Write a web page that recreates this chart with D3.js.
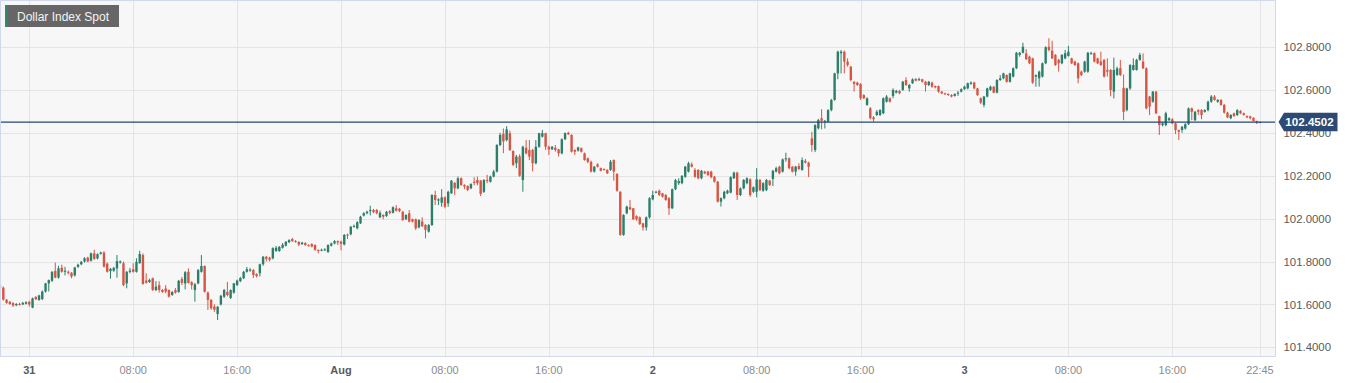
<!DOCTYPE html>
<html><head><meta charset="utf-8">
<script src="https://cdn.jsdelivr.net/npm/d3@7"></script>
<style>
html,body{margin:0;padding:0;background:#fff;}
svg{display:block;font-family:"Liberation Sans",Arial,Helvetica,sans-serif;}
</style></head><body>
<svg id="chart" width="1352" height="383"></svg>
<script>
// ---------- data ----------
const title = "Dollar Index Spot";
const startTime = "2023-07-30T21:45:00Z";   // first 15-minute candle
const intervalMinutes = 15;
const lastPrice = 102.4502;
const yTicks = [101.4, 101.6, 101.8, 102.0, 102.2, 102.4, 102.6, 102.8];
const xTickTimes = ["2023-07-31T00:00Z","2023-07-31T08:00Z","2023-07-31T16:00Z","2023-08-01T00:00Z","2023-08-01T08:00Z","2023-08-01T16:00Z","2023-08-02T00:00Z","2023-08-02T08:00Z","2023-08-02T16:00Z","2023-08-03T00:00Z","2023-08-03T08:00Z","2023-08-03T16:00Z","2023-08-03T22:45Z"];
const xTickLabels = ["31","08:00","16:00","Aug","08:00","16:00","2","08:00","16:00","3","08:00","16:00","22:45"];
const xTickMajor = [true,false,false,true,false,false,true,false,false,true,false,false,false];

// OHLC rows [open, high, low, close], consecutive 15-minute candles
const barsJul30to31a = [
[101.688,101.695,101.672,101.678],[101.678,101.683,101.618,101.622],[101.622,101.625,101.603,101.607],[101.612,101.616,101.598,101.602],
[101.606,101.610,101.588,101.595],[101.596,101.606,101.592,101.602],[101.602,101.608,101.595,101.600],[101.600,101.612,101.597,101.607],
[101.603,101.615,101.600,101.610],[101.612,101.617,101.590,101.600],[101.585,101.632,101.582,101.628],[101.635,101.638,101.620,101.624],
[101.620,101.645,101.618,101.642],[101.625,101.665,101.620,101.660],[101.660,101.700,101.655,101.698],[101.698,101.716,101.660,101.713],
[101.710,101.755,101.705,101.752],[101.756,101.795,101.722,101.725],[101.725,101.780,101.720,101.768],[101.771,101.785,101.748,101.752],
[101.752,101.775,101.735,101.757],[101.752,101.758,101.740,101.748],[101.748,101.750,101.722,101.730],[101.735,101.775,101.730,101.772],
[101.775,101.790,101.770,101.785],[101.787,101.803,101.783,101.798],[101.800,101.820,101.795,101.815],[101.818,101.822,101.797,101.800],
[101.803,101.842,101.800,101.838],[101.838,101.855,101.808,101.812],[101.814,101.838,101.810,101.834],[101.836,101.846,101.832,101.842],
[101.842,101.848,101.772,101.776],[101.790,101.795,101.748,101.752],[101.755,101.770,101.720,101.766],[101.757,101.775,101.752,101.770],
[101.768,101.830,101.725,101.802],[101.795,101.805,101.790,101.800],[101.792,101.800,101.685,101.690]
];
const barsJul31b = [
[101.698,101.755,101.675,101.752],[101.752,101.770,101.745,101.758],[101.764,101.792,101.748,101.752],[101.752,101.815,101.748,101.798],
[101.792,101.850,101.790,101.835],[101.830,101.838,101.692,101.695],[101.711,101.745,101.697,101.701],[101.704,101.720,101.700,101.714],
[101.722,101.725,101.663,101.667],[101.667,101.708,101.662,101.683],[101.690,101.708,101.655,101.667],[101.667,101.672,101.654,101.658],
[101.674,101.690,101.652,101.660],[101.667,101.670,101.632,101.636],[101.644,101.662,101.640,101.658],[101.667,101.676,101.650,101.655],
[101.658,101.714,101.654,101.710],[101.718,101.728,101.690,101.700],[101.698,101.755,101.670,101.750],[101.752,101.768,101.697,101.700],
[101.704,101.708,101.670,101.690],[101.667,101.700,101.613,101.694],[101.698,101.765,101.694,101.760],[101.752,101.830,101.748,101.779],
[101.779,101.782,101.655,101.659],[101.655,101.660,101.574,101.621],[101.621,101.625,101.575,101.582],[101.590,101.600,101.565,101.575],
[101.555,101.592,101.527,101.589],[101.600,101.645,101.595,101.640],[101.636,101.672,101.630,101.667],[101.658,101.705,101.638,101.644],
[101.630,101.670,101.625,101.667],[101.655,101.700,101.650,101.698],[101.690,101.716,101.686,101.711],[101.708,101.728,101.704,101.723],
[101.722,101.756,101.718,101.752],[101.752,101.775,101.748,101.764],[101.758,101.770,101.752,101.762]
];
const barsJul31cAug1a = [
[101.760,101.765,101.723,101.737],[101.742,101.745,101.725,101.732],[101.745,101.790,101.730,101.787],[101.787,101.826,101.780,101.822],
[101.822,101.826,101.800,101.812],[101.818,101.822,101.800,101.808],[101.815,101.866,101.810,101.862],[101.849,101.872,101.845,101.864],
[101.849,101.872,101.845,101.868],[101.864,101.886,101.860,101.878],[101.874,101.895,101.870,101.892],[101.890,101.904,101.886,101.900],
[101.905,101.910,101.892,101.895],[101.895,101.900,101.888,101.893],[101.891,101.895,101.872,101.879],[101.881,101.892,101.878,101.888],
[101.886,101.890,101.873,101.877],[101.876,101.880,101.870,101.874],[101.881,101.885,101.866,101.870],[101.877,101.880,101.850,101.854],
[101.854,101.856,101.838,101.849],[101.852,101.860,101.848,101.855],[101.854,101.862,101.850,101.856],[101.844,101.880,101.840,101.877],
[101.874,101.888,101.870,101.884],[101.884,101.900,101.880,101.895],[101.895,101.898,101.877,101.889],[101.893,101.897,101.852,101.882],
[101.879,101.928,101.875,101.924],[101.926,101.930,101.905,101.921],[101.927,101.966,101.922,101.962],[101.962,101.972,101.958,101.966],
[101.955,101.988,101.950,101.983],[101.978,102.013,101.975,102.009],[102.014,102.030,102.010,102.025],[102.025,102.037,102.020,102.032],
[102.035,102.060,102.015,102.040],[102.040,102.045,102.025,102.030],[102.040,102.045,102.020,102.025]
];
const barsAug1b = [
[102.006,102.037,102.002,102.027],[102.017,102.020,101.997,102.009],[102.012,102.036,102.008,102.032],[102.034,102.040,102.020,102.026],
[102.027,102.057,102.024,102.053],[102.048,102.063,102.033,102.037],[102.046,102.050,102.030,102.035],[102.032,102.036,101.990,101.993],
[101.997,102.020,101.993,102.017],[102.025,102.040,101.982,101.986],[101.997,102.000,101.982,101.986],[101.997,102.000,101.947,101.955],
[101.959,101.997,101.955,101.993],[101.986,102.006,101.960,101.965],[101.970,101.975,101.908,101.947],[101.939,101.975,101.935,101.970],
[101.970,102.114,101.966,102.110],[102.110,102.130,102.063,102.087],[102.084,102.095,102.063,102.090],[102.074,102.137,102.055,102.099],
[102.099,102.104,102.048,102.055],[102.071,102.130,102.055,102.125],[102.118,102.180,102.115,102.177],[102.167,102.170,102.110,102.141],
[102.141,102.196,102.137,102.188],[102.188,102.192,102.152,102.157],[102.157,102.160,102.137,102.150],[102.152,102.155,102.128,102.133],
[102.141,102.165,102.137,102.161],[102.171,102.193,102.155,102.166],[102.180,102.196,102.155,102.165],[102.177,102.180,102.105,102.115],
[102.125,102.184,102.120,102.180],[102.180,102.204,102.165,102.177],[102.172,102.200,102.168,102.196],[102.196,102.227,102.192,102.219],
[102.219,102.347,102.215,102.343],[102.343,102.400,102.338,102.390],[102.395,102.420,102.305,102.360]
];
const barsAug1cAug2 = [
[102.366,102.431,102.360,102.416],[102.398,102.410,102.315,102.320],[102.315,102.318,102.245,102.250],[102.258,102.297,102.235,102.289],
[102.290,102.300,102.195,102.200],[102.180,102.340,102.125,102.335],[102.330,102.366,102.300,102.304],[102.320,102.366,102.273,102.289],
[102.320,102.325,102.220,102.258],[102.258,102.366,102.253,102.335],[102.335,102.400,102.330,102.398],[102.382,102.413,102.378,102.398],
[102.398,102.400,102.320,102.335],[102.335,102.340,102.297,102.323],[102.323,102.338,102.320,102.335],[102.330,102.343,102.312,102.320],
[102.323,102.325,102.289,102.304],[102.304,102.374,102.300,102.370],[102.370,102.402,102.366,102.398],[102.400,102.405,102.390,102.393],
[102.390,102.393,102.308,102.312],[102.320,102.323,102.297,102.312],[102.317,102.335,102.312,102.332],[102.328,102.332,102.308,102.312],
[102.304,102.308,102.270,102.273],[102.281,102.285,102.258,102.265],[102.265,102.270,102.215,102.219],[102.219,102.245,102.215,102.242],
[102.253,102.258,102.238,102.242],[102.235,102.238,102.220,102.223],[102.231,102.234,102.224,102.227],[102.227,102.230,102.208,102.211],
[102.227,102.273,102.223,102.265],[102.273,102.276,102.177,102.219],[102.208,102.212,102.125,102.130],[102.125,102.128,101.920,101.924],
[101.924,102.020,101.920,102.017],[102.025,102.060,102.020,102.056],[102.053,102.087,102.040,102.043],[102.048,102.050,101.993,101.997],
[102.012,102.015,101.990,101.997],[102.006,102.010,101.970,101.975],[101.978,101.980,101.944,101.959],[101.959,102.010,101.944,102.006],
[102.006,102.100,102.000,102.095],[102.090,102.130,102.085,102.110],[102.122,102.130,102.118,102.125],[102.130,102.135,102.105,102.110],
[102.118,102.120,102.098,102.102],[102.110,102.115,102.083,102.087],[102.095,102.100,102.017,102.048],[102.048,102.140,102.045,102.137],
[102.137,102.185,102.133,102.180],[102.165,102.188,102.157,102.175],[102.165,102.203,102.160,102.199],[102.195,102.246,102.190,102.242],
[102.219,102.265,102.215,102.258],[102.253,102.262,102.238,102.242],[102.227,102.235,102.190,102.195],[102.227,102.230,102.183,102.188],
[102.188,102.227,102.183,102.223],[102.219,102.223,102.207,102.211],[102.219,102.223,102.199,102.203],[102.219,102.223,102.188,102.193],
[102.195,102.199,102.168,102.172],[102.172,102.175,102.075,102.079],[102.079,102.099,102.056,102.095],[102.095,102.130,102.090,102.125],
[102.118,102.135,102.114,102.130],[102.121,102.197,102.118,102.193],[102.188,102.219,102.185,102.214],[102.214,102.219,102.087,102.110],
[102.110,102.145,102.105,102.141],[102.141,102.184,102.137,102.180],[102.165,102.193,102.160,102.188],[102.183,102.188,102.102,102.110],
[102.125,102.150,102.120,102.146],[102.125,102.235,102.099,102.183],[102.180,102.185,102.128,102.133],[102.130,102.170,102.125,102.165],
[102.133,102.185,102.128,102.180],[102.177,102.180,102.152,102.157],[102.185,102.227,102.152,102.223],[102.219,102.242,102.215,102.235],
[102.242,102.246,102.207,102.211],[102.219,102.280,102.215,102.276],[102.276,102.307,102.265,102.281],[102.281,102.285,102.230,102.235],
[102.242,102.245,102.215,102.219],[102.219,102.246,102.200,102.242],[102.245,102.258,102.227,102.231],[102.227,102.285,102.223,102.273],
[102.269,102.278,102.257,102.261],[102.261,102.265,102.193,102.242],[102.374,102.405,102.312,102.343],[102.320,102.440,102.310,102.436],
[102.421,102.465,102.416,102.459],[102.468,102.510,102.416,102.456],[102.452,102.460,102.420,102.456],[102.452,102.510,102.448,102.506],
[102.506,102.558,102.500,102.553]
];
const barsAug2bAug3 = [
[102.553,102.680,102.550,102.677],[102.677,102.783,102.650,102.778],[102.771,102.786,102.677,102.778],[102.778,102.783,102.677,102.732],
[102.732,102.747,102.708,102.716],[102.708,102.712,102.640,102.646],[102.638,102.640,102.592,102.628],[102.634,102.638,102.618,102.623],
[102.628,102.631,102.553,102.561],[102.576,102.580,102.557,102.561],[102.530,102.565,102.526,102.561],[102.514,102.520,102.463,102.468],
[102.472,102.478,102.452,102.463],[102.483,102.506,102.478,102.498],[102.483,102.510,102.478,102.506],[102.491,102.565,102.487,102.561],
[102.545,102.576,102.541,102.569],[102.561,102.565,102.541,102.545],[102.572,102.607,102.561,102.600],[102.587,102.600,102.584,102.595],
[102.595,102.600,102.580,102.584],[102.600,102.642,102.595,102.638],[102.646,102.659,102.618,102.623],[102.607,102.628,102.592,102.623],
[102.631,102.654,102.628,102.649],[102.651,102.655,102.640,102.643],[102.645,102.657,102.642,102.650],[102.649,102.652,102.634,102.638],
[102.638,102.642,102.592,102.623],[102.623,102.642,102.618,102.638],[102.634,102.638,102.610,102.615],[102.618,102.620,102.607,102.612],
[102.618,102.620,102.587,102.592],[102.592,102.595,102.580,102.584],[102.584,102.587,102.576,102.580],[102.581,102.584,102.572,102.576],
[102.576,102.580,102.565,102.569],[102.572,102.584,102.569,102.581],[102.584,102.595,102.572,102.587],[102.592,102.607,102.588,102.603],
[102.603,102.620,102.600,102.615],[102.607,102.634,102.603,102.631],[102.628,102.640,102.624,102.634],[102.634,102.638,102.603,102.607],
[102.607,102.610,102.572,102.576],[102.561,102.565,102.534,102.541],[102.530,102.572,102.519,102.569],[102.569,102.610,102.565,102.607],
[102.600,102.620,102.595,102.615],[102.615,102.618,102.584,102.587],[102.587,102.650,102.584,102.646],[102.646,102.669,102.642,102.654],
[102.654,102.680,102.650,102.677],[102.669,102.672,102.634,102.638],[102.638,102.680,102.634,102.677],[102.662,102.705,102.658,102.701],
[102.701,102.777,102.697,102.773],[102.763,102.777,102.755,102.773],[102.773,102.820,102.770,102.801],[102.770,102.790,102.740,102.743],
[102.755,102.760,102.720,102.724],[102.747,102.750,102.628,102.634],[102.662,102.672,102.615,102.669],[102.654,102.690,102.615,102.685],
[102.662,102.728,102.658,102.724],[102.724,102.803,102.720,102.799],[102.801,102.841,102.780,102.786],[102.783,102.829,102.743,102.747],
[102.763,102.767,102.712,102.716],[102.740,102.745,102.685,102.724],[102.724,102.767,102.720,102.763],[102.747,102.786,102.743,102.771],
[102.758,102.805,102.755,102.778],[102.747,102.750,102.720,102.724],[102.732,102.736,102.712,102.716],[102.724,102.728,102.631,102.654],
[102.685,102.690,102.665,102.669],[102.685,102.736,102.680,102.732],[102.685,102.777,102.680,102.773],[102.768,102.778,102.765,102.771],
[102.771,102.775,102.728,102.732],[102.747,102.750,102.720,102.724],[102.732,102.778,102.712,102.716],[102.740,102.744,102.658,102.662],
[102.693,102.747,102.662,102.685],[102.693,102.697,102.570,102.600],[102.592,102.750,102.560,102.693],[102.670,102.708,102.665,102.700],
[102.701,102.740,102.665,102.669],[102.610,102.672,102.459,102.498],[102.506,102.610,102.500,102.607],[102.607,102.720,102.600,102.716],
[102.693,102.747,102.690,102.716],[102.693,102.745,102.690,102.740],[102.740,102.773,102.736,102.763],[102.732,102.770,102.697,102.701],
[102.701,102.705,102.510,102.514],[102.569,102.572,102.483,102.522],[102.545,102.595,102.540,102.592],[102.592,102.595,102.487,102.491],
[102.478,102.480,102.390,102.436],[102.436,102.450,102.430,102.444],[102.436,102.498,102.430,102.491],[102.459,102.472,102.455,102.468],
[102.463,102.468,102.440,102.444],[102.444,102.448,102.394,102.413],[102.413,102.415,102.366,102.405],[102.413,102.432,102.400,102.428],
[102.420,102.445,102.415,102.440],[102.440,102.518,102.436,102.514],[102.514,102.518,102.459,102.498],[102.459,102.502,102.455,102.498],
[102.506,102.510,102.483,102.498],[102.506,102.510,102.463,102.483],[102.498,102.510,102.494,102.506],[102.506,102.550,102.500,102.545],
[102.545,102.576,102.540,102.569],[102.569,102.576,102.550,102.553],[102.545,102.557,102.540,102.553],[102.553,102.557,102.526,102.530],
[102.530,102.534,102.490,102.494],[102.494,102.498,102.468,102.472],[102.468,102.487,102.463,102.483],[102.491,102.494,102.474,102.478],
[102.483,102.510,102.478,102.506],[102.502,102.506,102.487,102.491],[102.491,102.494,102.480,102.483],[102.478,102.481,102.468,102.472],
[102.476,102.480,102.463,102.468],[102.470,102.472,102.452,102.455],[102.455,102.457,102.441,102.446],[102.446,102.452,102.445,102.4502]
];

// ---------- chart ----------
const W = 1352, H = 383;
const plot = {left: 0.5, top: 0.5, right: 1275.5, bottom: 356.5};
const colors = {up: "#2b7f6a", down: "#d75543", grid: "#e4e4e4", border: "#d3d9ec",
                bg: "#f7f7f7", line: "#24467a", label: "#5a5a5a", minor: "#8c8c8c"};

const rows = [].concat(barsJul30to31a, barsJul31b, barsJul31cAug1a, barsAug1b, barsAug1cAug2, barsAug2bAug3);
const t0 = new Date(startTime).getTime();
const data = rows.map((r, i) => ({
  t: new Date(t0 + i * intervalMinutes * 60000),
  o: r[0], h: Math.max(r[1], r[0], r[3]), l: Math.min(r[2], r[0], r[3]), c: r[3]
}));

const x = d3.scaleUtc()
  .domain([new Date("2023-07-31T00:00Z"), new Date("2023-08-03T16:00Z")])
  .range([29.3, 1172.3]);
const y = d3.scaleLinear().domain([101.4, 102.8]).range([347.3, 47.0]);

const svg = d3.select("#chart");
svg.append("rect").attr("width", W).attr("height", H).attr("fill", "#fff");

svg.append("defs").append("clipPath").attr("id", "clip")
  .append("rect").attr("x", plot.left).attr("y", plot.top)
  .attr("width", plot.right - plot.left).attr("height", plot.bottom - plot.top);

svg.append("rect").attr("x", plot.left).attr("y", plot.top)
  .attr("width", plot.right - plot.left).attr("height", plot.bottom - plot.top)
  .attr("fill", colors.bg);

// grid
const grid = svg.append("g").attr("shape-rendering", "crispEdges");
grid.selectAll("line.h").data(yTicks).join("line")
  .attr("x1", plot.left).attr("x2", plot.right)
  .attr("y1", d => Math.round(y(d)) + 0.5).attr("y2", d => Math.round(y(d)) + 0.5)
  .attr("stroke", colors.grid).attr("stroke-width", 1.4);
const xTickDates = xTickTimes.map(s => new Date(s));
grid.selectAll("line.v").data(xTickDates).join("line")
  .attr("y1", plot.top).attr("y2", plot.bottom)
  .attr("x1", d => Math.round(x(d)) + 0.5).attr("x2", d => Math.round(x(d)) + 0.5)
  .attr("stroke", colors.grid).attr("stroke-width", 1.4);

// candles
const g = svg.append("g").attr("clip-path", "url(#clip)");
const bw = 2.4;
const cg = g.selectAll("g.c").data(data).join("g");
cg.append("line")
  .attr("x1", d => x(d.t)).attr("x2", d => x(d.t))
  .attr("y1", d => y(d.h)).attr("y2", d => y(d.l))
  .attr("stroke", d => d.c >= d.o ? colors.up : colors.down).attr("stroke-width", 1);
cg.append("rect")
  .attr("x", d => x(d.t) - bw / 2).attr("width", bw)
  .attr("y", d => Math.min(y(d.o), y(d.c)))
  .attr("height", d => Math.max(1, Math.abs(y(d.o) - y(d.c))))
  .attr("fill", d => d.c >= d.o ? colors.up : colors.down);

// last price line
const py = y(lastPrice);
svg.append("line").attr("x1", plot.left).attr("x2", plot.right)
  .attr("y1", py).attr("y2", py).attr("stroke", colors.line).attr("stroke-width", 1.3);

// border
svg.append("rect").attr("x", plot.left).attr("y", plot.top)
  .attr("width", plot.right - plot.left).attr("height", plot.bottom - plot.top)
  .attr("fill", "none").attr("stroke", colors.border).attr("stroke-width", 1);

// y axis labels
svg.append("g").selectAll("text").data(yTicks).join("text")
  .attr("x", 1283.5).attr("y", d => y(d)).attr("dy", "0.36em")
  .attr("font-size", "11.4px").attr("fill", colors.label)
  .text(d => d.toFixed(4));

// x axis labels
svg.append("g").selectAll("text").data(xTickDates).join("text")
  .attr("x", d => x(d)).attr("y", 370).attr("dy", "0.36em")
  .attr("text-anchor", "middle").attr("font-size", "11px")
  .attr("font-weight", (d, i) => xTickMajor[i] ? "bold" : "normal")
  .attr("fill", (d, i) => xTickMajor[i] ? colors.label : colors.minor)
  .text((d, i) => xTickLabels[i]);

// last price tag
const tag = svg.append("g");
tag.append("path")
  .attr("d", `M1278.5,${py} L1284,${py - 9.2} L1337.5,${py - 9.2} L1337.5,${py + 9.2} L1284,${py + 9.2} Z`)
  .attr("fill", "#2c4a73");
tag.append("text").attr("x", 1309.5).attr("y", py).attr("dy", "0.36em")
  .attr("text-anchor", "middle").attr("font-size", "11.6px").attr("font-weight", "bold")
  .attr("fill", "#fff").text(lastPrice.toFixed(4));

// title badge
const badge = svg.append("g");
badge.append("rect").attr("x", 5).attr("y", 5).attr("width", 114).attr("height", 22).attr("fill", "#666666");
badge.append("rect").attr("x", 5).attr("y", 5).attr("width", 2.6).attr("height", 22).attr("fill", "#2f8a6c");
badge.append("text").attr("x", 17).attr("y", 20.6).attr("font-size", "12px").attr("fill", "#f4f4f4").text(title);
</script>
</body></html>
